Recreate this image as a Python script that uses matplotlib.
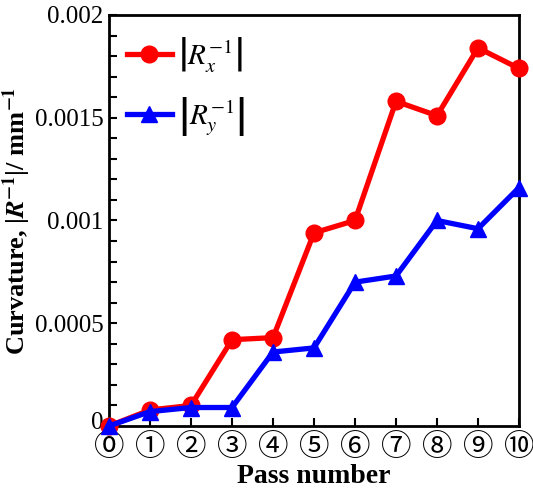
import matplotlib.pyplot as plt
import matplotlib.transforms as mtransforms
from matplotlib.ticker import MultipleLocator

plt.rcParams['font.family'] = 'Liberation Serif'
plt.rcParams['mathtext.fontset'] = 'stix'

passes = list(range(11))
pass_labels = ['⓪', '①', '②', '③', '④', '⑤', '⑥', '⑦', '⑧', '⑨', '⑩']
rx = [0.0, 0.000078, 0.0001, 0.00042, 0.00043, 0.00094, 0.001, 0.00158, 0.00151, 0.00184, 0.00174]
ry = [0.0, 0.00007, 0.00009, 0.00009, 0.00036, 0.00038, 0.0007, 0.00073, 0.001, 0.00096, 0.00116]

fig = plt.figure(figsize=(5.33, 4.98), dpi=100)
ax = fig.add_axes([109/533, 1-426/498, 410/533, 411/498])

ax.plot(passes, rx, color='#ff0000', lw=3.8, marker='o', ms=12, clip_on=False, zorder=3,
        label=r'$\left|R_x^{-1}\right|$')
ax.plot(passes, ry, color='#0000ff', lw=3.8, marker='^', ms=12, clip_on=False, zorder=4,
        label=r'$\left|R_y^{-1}\right|$')

ax.set_xlim(0, 10)
ax.set_ylim(0, 0.002)
ax.set_xticks(passes)
ax.set_xticklabels(pass_labels, family=['Noto Sans CJK JP', 'DejaVu Sans'], fontsize=22)
ax.set_yticks([0, 0.0005, 0.001, 0.0015, 0.002])
ax.set_yticklabels(['0', '0.0005', '0.001', '0.0015', '0.002'], fontsize=18)
ax.yaxis.set_minor_locator(MultipleLocator(0.0001))
ax.tick_params(direction='in', length=6, width=1.5, right=False, top=False, pad=4)
ax.tick_params(axis='y', which='minor', direction='in', length=6, width=1.5)
ax.tick_params(axis='x', pad=4)
for s in ax.spines.values():
    s.set_linewidth(2)

# nudge the "0" label up a little so it clears the circled zero
zero_lab = ax.get_yticklabels()[0]
zero_lab.set_transform(zero_lab.get_transform() +
                       mtransforms.ScaledTranslation(0, 6/100, fig.dpi_scale_trans))

ax.set_xlabel('Pass number', fontsize=20, fontweight='bold', labelpad=1)
ax.set_ylabel(r'Curvature, |$\mathbfit{R}^{\mathbf{-1}}$|/ mm$^{\mathbf{-1}}$',
              fontsize=19, fontweight='bold', labelpad=1)

ax.legend(loc='upper left', bbox_to_anchor=(0.0, 0.995), fontsize=21, frameon=False,
          handlelength=1.55, labelspacing=0.75, borderaxespad=0.2, handletextpad=0.2)

fig.savefig('out.png', dpi=100)
